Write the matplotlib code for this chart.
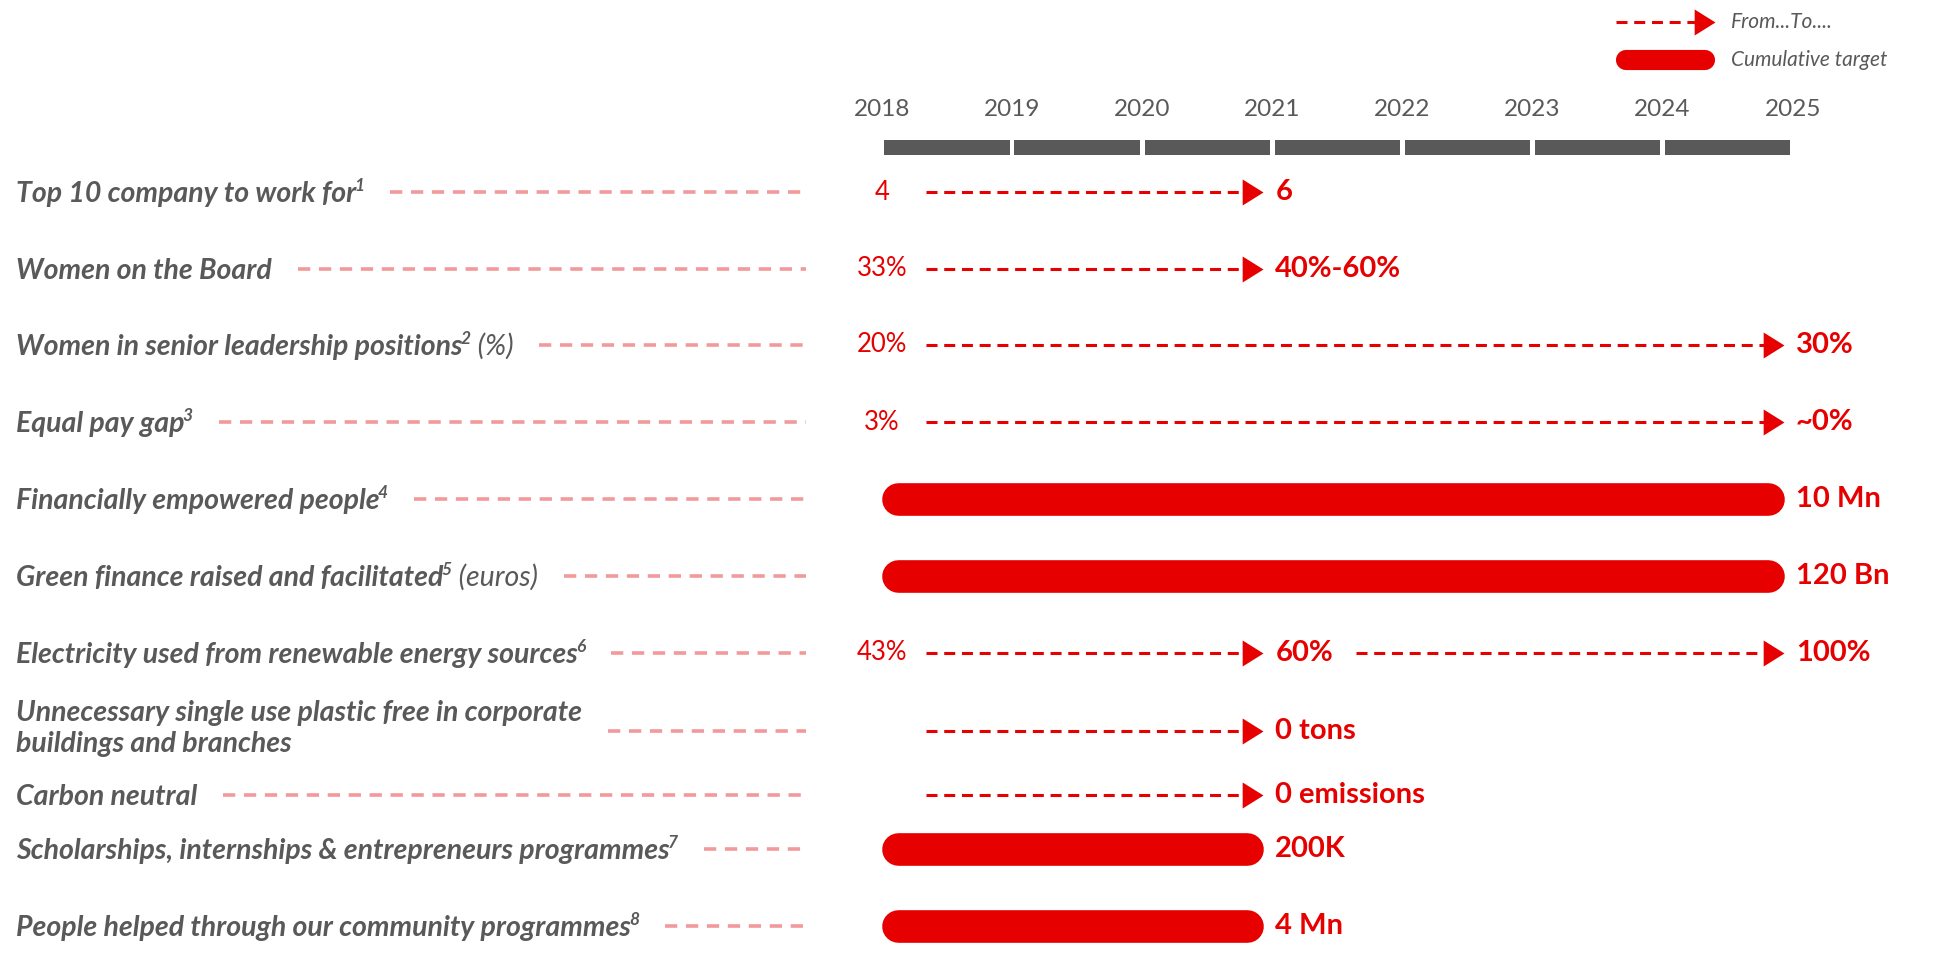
import matplotlib.pyplot as plt
import numpy as np

# ---- data -------------------------------------------------------------
years = [2018, 2019, 2020, 2021, 2022, 2023, 2024, 2025]
start_year = 2018

indicators = [
    "Top 10 company to work for",
    "Women on the Board",
    "Women in senior leadership positions",
    "Equal pay gap",
    "Financially empowered people",
    "Green finance raised and facilitated",
    "Electricity used from renewable energy sources",
    "Unnecessary single use plastic free in corporate\nbuildings and branches",
    "Carbon neutral",
    "Scholarships, internships & entrepreneurs programmes",
    "People helped through our community programmes",
]
footnotes = ["1", "", "2", "3", "4", "5", "6", "", "", "7", "8"]
units = ["", "", " (%)", "", "", " (euros)", "", "", "", "", ""]
kinds = ["arrow", "arrow", "arrow", "arrow", "bar", "bar",
         "arrow", "arrow", "arrow", "bar", "bar"]
baselines = ["4", "33%", "20%", "3%", "", "", "43%", "", "", "", ""]
target_years = [[2021], [2021], [2025], [2025], [2025], [2025],
                [2021, 2025], [2021], [2021], [2021], [2021]]
target_labels = [["6"], ["40%-60%"], ["30%"], ["~0%"], ["10 Mn"], ["120 Bn"],
                 ["60%", "100%"], ["0 tons"], ["0 emissions"], ["200K"], ["4 Mn"]]

# ---- layout / style ---------------------------------------------------
W, H = 1942, 967
PX = 130.1                      # pixels per year
X2018 = 882                     # pixel position of 2018
row_y = [192, 269, 345, 422, 499, 576, 653, 731, 795, 849, 926]

RED = "#E60000"
PINK = "#F29A9B"
GREY = "#595959"
FONT = ["Lato", "DejaVu Sans"]
LABEL_SIZE = 20.5

plt.rcParams["font.family"] = FONT

fig = plt.figure(figsize=(W / 100, H / 100), dpi=100)
ax = fig.add_axes([0, 0, 1, 1])
x0 = start_year - X2018 / PX
ax.set_xlim(x0, x0 + W / PX)
ax.set_ylim(H, 0)
ax.axis("off")
renderer = fig.canvas.get_renderer()


def px(p):
    """pixel distance -> years"""
    return p / PX


def fx(p):
    """absolute pixel x -> data x"""
    return x0 + p / PX


def right_edge(t):
    bb = t.get_window_extent(renderer)
    return ax.transData.inverted().transform((bb.x1, 0))[0]


arrow_head = [(-1.6, -1), (0, 0), (-1.6, 1)]


def dashed_arrow(xa, xb, y):
    ax.plot([xa, xb - px(18)], [y, y], color=RED, lw=2.2,
            dashes=(3.6, 2.2), solid_capstyle="butt")
    ax.plot([xb], [y], marker=arrow_head, ms=30, color=RED, mew=0)


# ---- timeline ---------------------------------------------------------
gap = px(4.6)
ax.bar(np.array(years[:-1]) + gap / 2, 15, bottom=140, width=1 - gap,
       align="edge", color=GREY)
for yr in years:
    ax.text(yr, 109, str(yr), ha="center", va="center", fontsize=17.5,
            color=GREY)

# ---- rows -------------------------------------------------------------
label_kw = dict(fontsize=LABEL_SIZE, fontweight="bold", fontstyle="italic",
                color=GREY)
for i, name in enumerate(indicators):
    y = row_y[i]
    lines = name.split("\n")
    if len(lines) == 1:
        bases = [y + 10]
    else:
        bases = [y - 10, y + 21]
    end = fx(0)
    for j, line in enumerate(lines):
        t = ax.text(fx(16), bases[j], line, va="baseline", **label_kw)
        xe = right_edge(t)
        if j == len(lines) - 1 and footnotes[i]:
            t = ax.text(xe - px(2), bases[j] - 11, footnotes[i], va="baseline",
                        fontsize=12.5, fontweight="bold", fontstyle="italic",
                        color=GREY)
            xe = right_edge(t)
        if j == len(lines) - 1 and units[i]:
            t = ax.text(xe, bases[j], units[i], va="baseline",
                        fontsize=LABEL_SIZE, fontstyle="italic", color=GREY)
            xe = right_edge(t)
        end = max(end, xe)
    # pink connector
    ax.plot([end + px(26), fx(806)], [y, y], color=PINK, lw=2.6,
            dashes=(3.4, 2.4))

    if baselines[i]:
        ax.text(start_year, y, baselines[i], ha="center", va="center",
                fontsize=18.5, color=RED)

    prev = start_year
    for k, (ty, lab) in enumerate(zip(target_years[i], target_labels[i])):
        tip = ty - px(9)
        if kinds[i] == "bar":
            r = px(16)
            ax.plot([start_year + r, tip - r], [y, y], color=RED, lw=23.5,
                    solid_capstyle="round")
        else:
            xa = prev + (px(44) if k == 0 else px(84))
            dashed_arrow(xa, tip, y)
        ax.text(ty + px(3), y, lab, ha="left", va="center", fontsize=21,
                fontweight="bold", color=RED)
        prev = ty

# ---- legend -----------------------------------------------------------
dashed_arrow(fx(1616), fx(1715), 22)
ax.text(fx(1731), 22, "From...To....", va="center", fontsize=15,
        fontstyle="italic", color=GREY)
ax.plot([fx(1626), fx(1705)], [60, 60], color=RED, lw=14.5,
        solid_capstyle="round")
ax.text(fx(1731), 60, "Cumulative target", va="center", fontsize=15,
        fontstyle="italic", color=GREY)

fig.savefig("out.png", dpi=100)
